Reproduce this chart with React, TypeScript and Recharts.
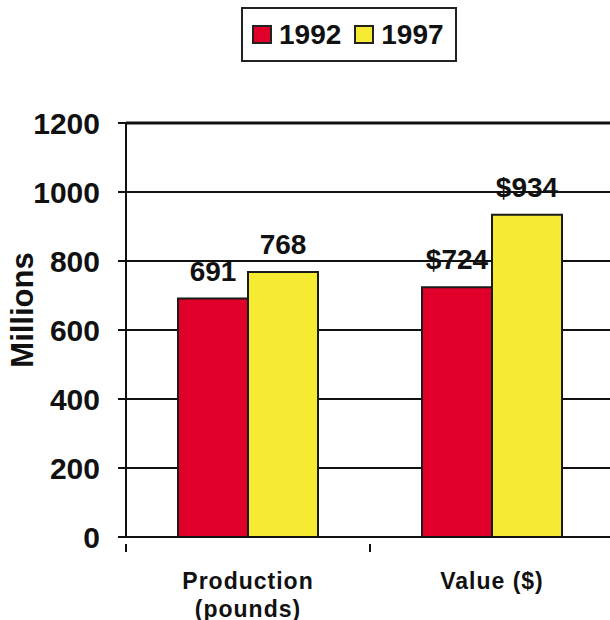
import React from 'react';
import { BarChart, Bar, XAxis, YAxis, CartesianGrid, LabelList, ReferenceLine } from 'recharts';

const categories = ['Production|(pounds)', 'Value ($)'];
const values1992 = [691, 724];
const values1997 = [768, 934];
const labelPrefixes = ['', '$'];
const seriesNames = ['1992', '1997'];
const seriesColors = ['#E0002A', '#F5EB33'];
const yTicks = [0, 200, 400, 600, 800, 1000, 1200];

const data = categories.map((c, i) => ({
  name: c,
  prefix: labelPrefixes[i],
  y1992: values1992[i],
  y1997: values1997[i],
}));

const FONT = '"Liberation Sans", Arial, Helvetica, sans-serif';
const INK = '#111';

const XTick = (props: any) => {
  const { x, y, payload, width, visibleTicksCount } = props;
  const band = width / (visibleTicksCount || categories.length);
  const lines = String(payload.value).split('|');
  return (
    <g>
      <line x1={x - band / 2} x2={x - band / 2} y1={y - 1} y2={y + 7} stroke={INK} strokeWidth={2} />
      <text
        x={x}
        y={y + 44}
        textAnchor="middle"
        fontFamily={FONT}
        fontWeight="bold"
        fontSize={23}
        letterSpacing={1}
        fill={INK}
      >
        {lines.map((l, i) => (
          <tspan key={i} x={x} dy={i === 0 ? 0 : 28}>
            {l}
          </tspan>
        ))}
      </text>
    </g>
  );
};

const makeLabel = (series: 'y1992' | 'y1997') => (props: any) => {
  const { x, y, width, index } = props;
  const d = data[index];
  return (
    <text
      x={x + width / 2}
      y={y - 18}
      textAnchor="middle"
      fontFamily={FONT}
      fontWeight="bold"
      fontSize={28}
      fill={INK}
    >
      {d.prefix + d[series]}
    </text>
  );
};

const YLabel = (props: any) => {
  const { viewBox } = props;
  const cx = viewBox.x + 33;
  const cy = 310;
  return (
    <text
      x={cx}
      y={cy}
      transform={`rotate(-90 ${cx} ${cy})`}
      textAnchor="middle"
      fontFamily={FONT}
      fontWeight="bold"
      fontSize={31}
      fill={INK}
    >
      Millions
    </text>
  );
};

const Legend = () => (
  <div
    style={{
      position: 'absolute',
      left: 241,
      top: 7,
      width: 216,
      height: 55,
      border: '2px solid #222',
      boxSizing: 'border-box',
      display: 'flex',
      alignItems: 'center',
      paddingLeft: 9,
      fontFamily: FONT,
      fontWeight: 'bold',
      fontSize: 28,
      color: INK,
      background: '#fff',
    }}
  >
    {seriesNames.map((n, i) => (
      <div key={n} style={{ display: 'flex', alignItems: 'center', marginRight: 13 }}>
        <div
          style={{
            width: 20,
            height: 19,
            boxSizing: 'border-box',
            border: '2px solid #222',
            background: seriesColors[i],
            marginRight: 7,
          }}
        />
        <span style={{ lineHeight: '28px' }}>{n}</span>
      </div>
    ))}
  </div>
);

export default function App() {
  return (
    <div
      style={{
        position: 'absolute',
        left: 0,
        top: 0,
        width: 610,
        height: 620,
        overflow: 'hidden',
        background: '#fff',
      }}
    >
      <BarChart
        width={614}
        height={620}
        data={data}
        margin={{ top: 123, right: 0, bottom: 0, left: 0 }}
        barCategoryGap={52}
        barGap={0}
      >
        <CartesianGrid vertical={false} stroke={INK} strokeWidth={2} />
        <XAxis
          dataKey="name"
          axisLine={{ stroke: INK, strokeWidth: 2 }}
          tickLine={false}
          tick={<XTick />}
          interval={0}
          height={83}
        />
        <YAxis
          domain={[0, 1200]}
          ticks={yTicks}
          width={126}
          axisLine={{ stroke: INK, strokeWidth: 2 }}
          tickLine={{ stroke: INK, strokeWidth: 2 }}
          tickSize={8}
          tickMargin={18}
          tick={{ fontFamily: FONT, fontWeight: 'bold', fontSize: 30, fill: INK }}
          label={<YLabel />}
        />
        <ReferenceLine y={1200} stroke={INK} strokeWidth={3} />
        <Bar dataKey="y1992" fill={seriesColors[0]} stroke="#1a1a1a" strokeWidth={2} isAnimationActive={false}>
          <LabelList dataKey="y1992" content={makeLabel('y1992')} />
        </Bar>
        <Bar dataKey="y1997" fill={seriesColors[1]} stroke="#1a1a1a" strokeWidth={2} isAnimationActive={false}>
          <LabelList dataKey="y1997" content={makeLabel('y1997')} />
        </Bar>
      </BarChart>
      <Legend />
    </div>
  );
}
